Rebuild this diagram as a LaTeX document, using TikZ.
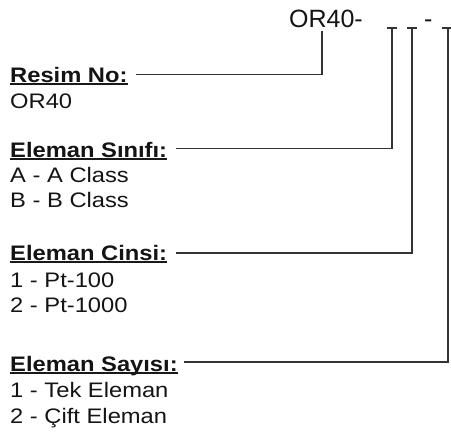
\documentclass[tikz,border=0pt]{standalone}
\usepackage{fontspec}
\setmainfont{Liberation Sans}[FakeStretch=1.13]
\newfontfamily\topfont{Liberation Sans}
\begin{document}
\begin{tikzpicture}[x=1pt,y=-1pt,
  txt/.style={anchor=base west,inner sep=0pt,text=black!92,font=\fontsize{21}{25}\selectfont},
  head/.style={txt,font=\fontsize{21}{25}\selectfont\bfseries},
  top/.style={txt,font=\topfont\fontsize{25}{29}\selectfont},
  conn/.style={draw=black!80,line width=1.3pt},
  uline/.style={draw=black!90,line width=1.8pt}]
\useasboundingbox[fill=white] (0,0) rectangle (451,432);
% top code
\node[top] (code) at (289,27) {OR40-};
\node[top] (dash) at (424,27) {-};
\coordinate (t1) at (322,31);
\coordinate (t2) at (392,28);
\coordinate (t3) at (412,28);
\coordinate (t4) at (448,28);
\draw[conn] (387,28) -- (397,28);
\draw[conn] (407,28) -- (417,28);
\draw[conn] (442,28) -- (452,28);
% headers
\node[head] (h1) at (10,82) {Resim No:};
\node[txt]  (v1) at (10,108) {OR40};
\node[head] (h2) at (10,157) {Eleman Sınıfı:};
\node[txt]  (v2a) at (10,182) {A - A Class};
\node[txt]  (v2b) at (10,207) {B - B Class};
\node[head] (h3) at (10,260) {Eleman Cinsi:};
\node[txt]  (v3a) at (10,287) {1 - Pt-100};
\node[txt]  (v3b) at (10,312) {2 - Pt-1000};
\node[head] (h4) at (10,371) {Eleman Sayısı:};
\node[txt]  (v4a) at (10,397) {1 - Tek Eleman};
\node[txt]  (v4b) at (10,423) {2 - Çift Eleman};
% underlines
\foreach \h in {h1,h2,h3,h4}
  \draw[uline] ([yshift=-2.2pt]\h.base west) -- ([yshift=-2.2pt]\h.base east);
% connectors
\draw[conn] ([xshift=8pt,yshift=7.3pt]h1.base east) -| (t1);
\draw[conn] ([xshift=9pt,yshift=8.5pt]h2.base east) -| (t2);
\draw[conn] ([xshift=9pt,yshift=7pt]h3.base east) -| (t3);
\draw[conn] ([xshift=6pt,yshift=9pt]h4.base east) -| (t4);
\end{tikzpicture}
\end{document}
